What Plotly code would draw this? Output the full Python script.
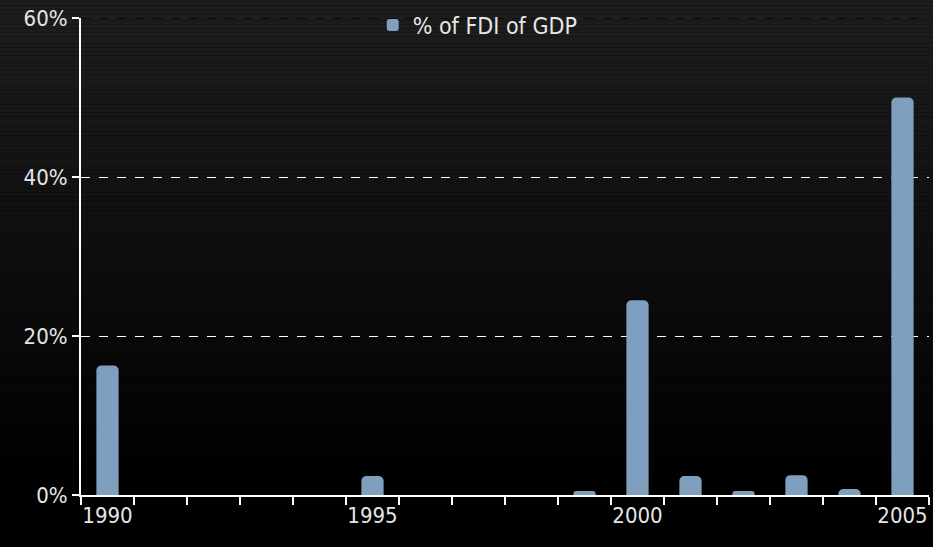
import plotly.graph_objects as go

years = [str(y) for y in range(1990, 2006)]
fdi_pct = [16.3, 0, 0, 0, 0, 2.4, 0, 0, 0, 0.5, 24.5, 2.4, 0.5, 2.5, 0.75, 50.0]
tick_labels = ["1990", "", "", "", "", "1995", "", "", "", "", "2000", "", "", "", "", "2005"]
y_ticks = [0, 20, 40, 60]
y_tick_labels = ["0%", "20%", "40%", "60%"]

font = "DejaVu Sans Condensed, Liberation Sans Narrow, Arial Narrow, sans-serif"

fig = go.Figure()
fig.add_trace(go.Bar(
    x=years, y=fdi_pct, name="% of FDI of GDP",
    marker=dict(color="#7f9fbf", line=dict(width=0)),
    width=0.42,
))

# dark gradient background, approximated with thin bands
shapes = []
n = 150
for i in range(n):
    t = i / n
    g = max(0, int(round(30 * (1 - t / 0.85))))
    shapes.append(dict(type="rect", xref="paper", yref="paper",
                       x0=-0.2, x1=1.1, y0=1.05 - (i + 1) * 1.2 / n, y1=1.05 - i * 1.2 / n,
                       fillcolor=f"rgb({g},{g},{g})", line=dict(width=0), layer="below"))
shapes.append(dict(type="line", xref="paper", yref="y", x0=0, x1=1, y0=60, y1=60,
                   line=dict(color="black", width=1.5, dash="dash"), layer="above"))

fig.update_layout(
    width=933, height=547,
    margin=dict(l=81, r=4, t=15, b=52),
    paper_bgcolor="black", plot_bgcolor="rgba(0,0,0,0)",
    font=dict(family=font, size=22, color="#e6e6e6"),
    shapes=shapes,
    barcornerradius=5,
    showlegend=True,
    legend=dict(x=0.344, y=0.985, xanchor="left", yanchor="middle", bgcolor="rgba(0,0,0,0)",
                itemwidth=30, font=dict(size=23, color="#e6e6e6")),
    xaxis=dict(type="category", tickmode="array", tickvals=years, ticktext=tick_labels,
               tickson="boundaries", ticks="outside", ticklen=8, tickcolor="white", tickwidth=2,
               tickangle=0, automargin=False,
               showline=True, linecolor="white", linewidth=2, showgrid=False),
    yaxis=dict(range=[0, 60], tickvals=y_ticks, ticktext=y_tick_labels,
               ticks="outside", ticklen=7, tickcolor="white", tickwidth=2, automargin=False,
               showline=True, linecolor="white", linewidth=2,
               showgrid=True, gridcolor="white", griddash="dash", gridwidth=1,
               zeroline=False),
)

fig.write_html("out.html", config={"displayModeBar": False},
               post_script="document.body.style.margin='0';document.body.style.background='black';")
